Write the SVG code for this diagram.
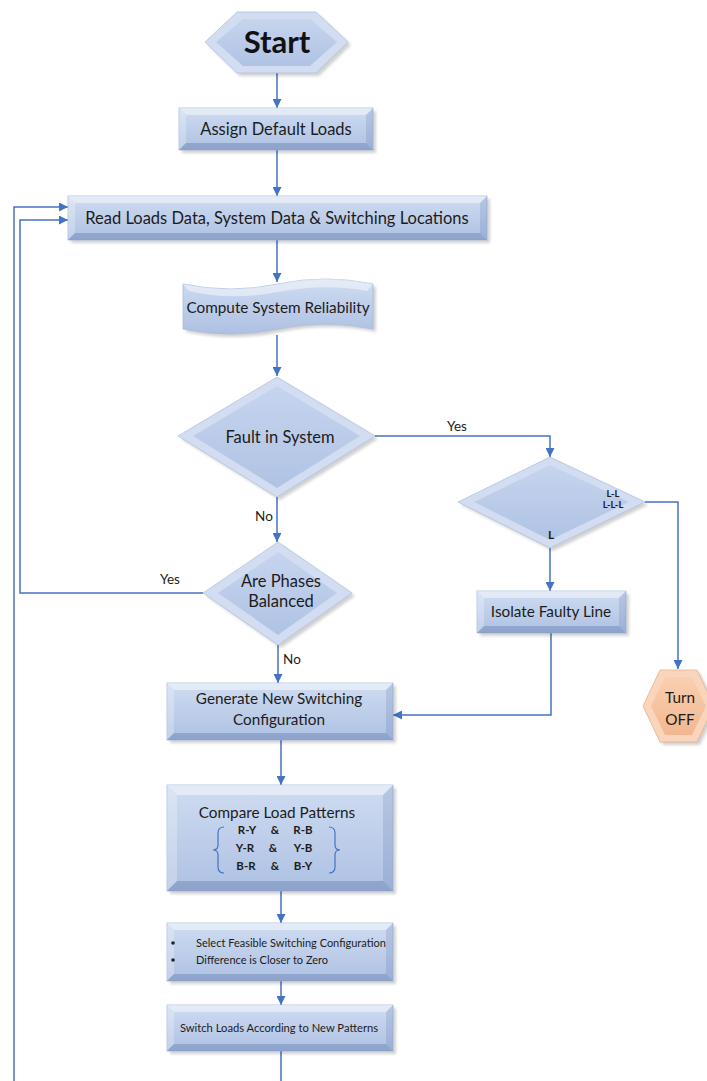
<svg xmlns="http://www.w3.org/2000/svg" width="707" height="1081" viewBox="0 0 707 1081">
<style>
text{font-family:Lato,"Open Sans","Liberation Sans",sans-serif;fill:#1c1c1c;text-anchor:middle}
.t16{font-size:16.5px}
.t15{font-size:15.3px}
.t13{font-size:13.5px}
.sm{font-size:11.5px;font-weight:bold}
.xs{font-size:11px}
.body{fill:url(#gBox);stroke:#a9bbdc;stroke-width:0.8}
.hi{fill:#ffffff;opacity:0.45}
.hl{fill:#ffffff;opacity:0.25}
.dr{fill:#2a4a88;opacity:0.14}
.db{fill:#2a4a88;opacity:0.25}
.shadow{fill:#000;opacity:0.18;filter:url(#blur)}
.con{fill:none;stroke:#4472c4;stroke-width:1.5}
.brace{fill:none;stroke:#4472c4;stroke-width:1.2}
.dia{fill:#d3ddf1;stroke:#b3c3e0;stroke-width:0.8}
.diain{fill:url(#gDia)}
</style>
<defs>
<linearGradient id="gBox" x1="0" y1="0" x2="0" y2="1">
<stop offset="0" stop-color="#cfdcf1"/><stop offset="1" stop-color="#aec1e3"/>
</linearGradient>
<linearGradient id="gDia" x1="0" y1="0" x2="0" y2="1">
<stop offset="0" stop-color="#c6d4ee"/><stop offset="1" stop-color="#b0c3e4"/>
</linearGradient>
<linearGradient id="gOrg" x1="0" y1="0" x2="0" y2="1">
<stop offset="0" stop-color="#f9cfb1"/><stop offset="1" stop-color="#f3b790"/>
</linearGradient>
<filter id="blur" x="-10%" y="-10%" width="130%" height="140%"><feGaussianBlur stdDeviation="1.5"/></filter>
<marker id="arr" viewBox="0 0 10 10" refX="10" refY="5" markerWidth="9" markerHeight="9" markerUnits="userSpaceOnUse" orient="auto">
<path d="M0,0 L10,5 L0,10 z" fill="#4472c4"/>
</marker>
</defs>

<g id="connectors">
<path class="con" d="M277,73 V108" marker-end="url(#arr)"/>
<path class="con" d="M277,150 V196" marker-end="url(#arr)"/>
<path class="con" d="M277,240 V282" marker-end="url(#arr)"/>
<path class="con" d="M277,335 V376" marker-end="url(#arr)"/>
<path class="con" d="M375,436 H550 V457" marker-end="url(#arr)"/>
<path class="con" d="M277,497 V542" marker-end="url(#arr)"/>
<path class="con" d="M550,548 V591" marker-end="url(#arr)"/>
<path class="con" d="M645,502 H678 V669" marker-end="url(#arr)"/>
<path class="con" d="M551,633 V715 H393" marker-end="url(#arr)"/>
<path class="con" d="M203,593 H20 V220 H68" marker-end="url(#arr)"/>
<path class="con" d="M278,645 V683" marker-end="url(#arr)"/>
<path class="con" d="M281,740 V785" marker-end="url(#arr)"/>
<path class="con" d="M281,891 V923" marker-end="url(#arr)"/>
<path class="con" d="M281,981 V1005" marker-end="url(#arr)"/>
<path class="con" d="M281,1051 V1081"/>
<path class="con" d="M14,1081 V207 H68" marker-end="url(#arr)"/>
<text class="t13" x="457" y="431">Yes</text>
<text class="t13" x="264" y="521">No</text>
<text class="t13" x="170" y="584">Yes</text>
<text class="t13" x="292" y="664">No</text>
</g>

<g id="start">
<polygon class="shadow" points="208,45 240,15 319,15 351,45 319,76 240,76"/>
<polygon class="dia" points="205,42 237,12 316,12 348,42 316,73 237,73"/>
<polygon class="diain" points="216,42 243,19 310,19 337,42 310,66 243,66"/>
<text x="277" y="53" style="font-size:31px;font-weight:bold;fill:#111">Start</text>
</g>

<g id="assign">
<rect class="shadow" x="182" y="111" width="194" height="42"/>
<rect class="body" x="179" y="108" width="194" height="42"/>
<polygon class="hi" points="179,108 373,108 366,115 186,115"/>
<polygon class="hl" points="179,108 186,115 186,143 179,150"/>
<polygon class="dr" points="373,108 373,150 366,143 366,115"/>
<polygon class="db" points="179,150 373,150 366,143 186,143"/>
<text class="t16" x="276" y="135">Assign Default Loads</text>
</g>

<g id="read">
<rect class="shadow" x="71" y="199" width="419" height="44"/>
<rect class="body" x="68" y="196" width="419" height="44"/>
<polygon class="hi" points="68,196 487,196 480,203 75,203"/>
<polygon class="hl" points="68,196 75,203 75,233 68,240"/>
<polygon class="dr" points="487,196 487,240 480,233 480,203"/>
<polygon class="db" points="68,240 487,240 480,233 75,233"/>
<text class="t16" x="277" y="224">Read Loads Data, System Data &amp; Switching Locations</text>
</g>

<g id="compute">
<path class="shadow" d="M186,287 Q234,297 281,287 T376,287 L376,332 Q328,322 281,332 T186,332 Z"/>
<path class="body" d="M183,284 Q231,294 278,284 T373,284 L373,329 Q325,319 278,329 T183,329 Z"/>
<path class="hi" d="M183,284 Q231,294 278,284 T373,284 L367,291 Q325,283 278,292 T189,291 Z"/>
<text class="t15" x="278" y="313">Compute System Reliability</text>
</g>

<g id="fault">
<polygon class="shadow" points="181,439 280,380 378,439 280,500"/>
<polygon class="dia" points="178,436 277,377 375,436 277,497"/>
<polygon class="diain" points="193,436 277,386 360,436 277,488"/>
<text class="t16" x="280" y="443">Fault in System</text>
</g>

<g id="faulttype">
<polygon class="shadow" points="461,505 553,460 648,505 553,551"/>
<polygon class="dia" points="458,502 550,457 645,502 550,548"/>
<polygon class="diain" points="474,502 550,465 629,502 550,540"/>
<text class="sm" x="613" y="497" style="font-size:9.5px">L-L</text>
<text class="sm" x="613" y="508" style="font-size:9.5px">L-L-L</text>
<text class="sm" x="551" y="539" style="font-size:12px">L</text>
</g>

<g id="phases">
<polygon class="shadow" points="206,596 281,545 355,596 281,648"/>
<polygon class="dia" points="203,593 278,542 352,593 278,645"/>
<polygon class="diain" points="218,593 278,552 337,593 278,635"/>
<text class="t16" x="281" y="587">Are Phases</text>
<text class="t16" x="281" y="607">Balanced</text>
</g>

<g id="isolate">
<rect class="shadow" x="480" y="594" width="149" height="42"/>
<rect class="body" x="477" y="591" width="149" height="42"/>
<polygon class="hi" points="477,591 626,591 619,598 484,598"/>
<polygon class="hl" points="477,591 484,598 484,626 477,633"/>
<polygon class="dr" points="626,591 626,633 619,626 619,598"/>
<polygon class="db" points="477,633 626,633 619,626 484,626"/>
<text class="t15" x="551" y="617">Isolate Faulty Line</text>
</g>

<g id="turnoff">
<polygon class="shadow" points="646,709 663,673 700,673 717,709 700,745 663,745"/>
<polygon points="643,706 660,670 697,670 714,706 697,742 660,742" fill="#f9d5bb" stroke="#e8b08a" stroke-width="0.8"/>
<polygon points="651,706 665,677 692,677 706,706 692,735 665,735" fill="url(#gOrg)"/>
<text class="t15" x="680" y="703">Turn</text>
<text class="t15" x="680" y="725">OFF</text>
</g>

<g id="generate">
<rect class="shadow" x="170" y="686" width="226" height="57"/>
<rect class="body" x="167" y="683" width="226" height="57"/>
<polygon class="hi" points="167,683 393,683 386,690 174,690"/>
<polygon class="hl" points="167,683 174,690 174,733 167,740"/>
<polygon class="dr" points="393,683 393,740 386,733 386,690"/>
<polygon class="db" points="167,740 393,740 386,733 174,733"/>
<text class="t15" x="279" y="704">Generate New Switching</text>
<text class="t15" x="279" y="725">Configuration</text>
</g>

<g id="compare">
<rect class="shadow" x="170" y="788" width="226" height="106"/>
<rect class="body" x="167" y="785" width="226" height="106"/>
<polygon class="hi" points="167,785 393,785 383,795 177,795"/>
<polygon class="hl" points="167,785 177,795 177,881 167,891"/>
<polygon class="dr" points="393,785 393,891 383,881 383,795"/>
<polygon class="db" points="167,891 393,891 383,881 177,881"/>
<text class="t15" x="277" y="818">Compare Load Patterns</text>
<path class="brace" d="M224,827 Q218,827 218,833 V845 Q218,850 213,850 Q218,850 218,855 V867 Q218,873 224,873"/>
<path class="brace" d="M329,827 Q335,827 335,833 V845 Q335,850 340,850 Q335,850 335,855 V867 Q335,873 329,873"/>
<text class="sm" x="247" y="834">R-Y</text><text class="sm" x="275" y="834">&amp;</text><text class="sm" x="303" y="834">R-B</text>
<text class="sm" x="245" y="852">Y-R</text><text class="sm" x="273" y="852">&amp;</text><text class="sm" x="303" y="852">Y-B</text>
<text class="sm" x="246" y="870">B-R</text><text class="sm" x="275" y="870">&amp;</text><text class="sm" x="303" y="870">B-Y</text>
</g>

<g id="select">
<rect class="shadow" x="170" y="926" width="226" height="58"/>
<rect class="body" x="167" y="923" width="226" height="58"/>
<polygon class="hi" points="167,923 393,923 386,930 174,930"/>
<polygon class="hl" points="167,923 174,930 174,974 167,981"/>
<polygon class="dr" points="393,923 393,981 386,974 386,930"/>
<polygon class="db" points="167,981 393,981 386,974 174,974"/>
<circle cx="173" cy="943" r="1.8" fill="#222"/>
<circle cx="173" cy="960" r="1.8" fill="#222"/>
<text class="xs" x="196" y="947" style="text-anchor:start">Select Feasible Switching Configuration</text>
<text class="xs" x="196" y="964" style="text-anchor:start">Difference is Closer to Zero</text>
</g>

<g id="switch">
<rect class="shadow" x="170" y="1008" width="226" height="46"/>
<rect class="body" x="167" y="1005" width="226" height="46"/>
<polygon class="hi" points="167,1005 393,1005 386,1012 174,1012"/>
<polygon class="hl" points="167,1005 174,1012 174,1044 167,1051"/>
<polygon class="dr" points="393,1005 393,1051 386,1044 386,1012"/>
<polygon class="db" points="167,1051 393,1051 386,1044 174,1044"/>
<text class="xs" x="279" y="1032" style="font-size:11.2px">Switch Loads According to New Patterns</text>
</g>
</svg>
